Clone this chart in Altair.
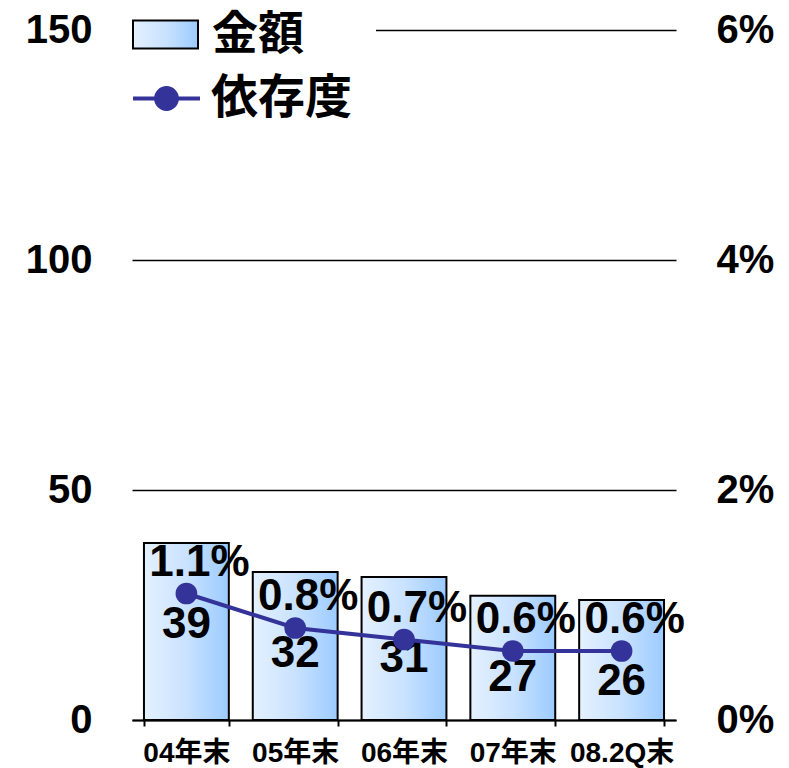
import altair as alt
import pandas as pd

categories = ["04年末", "05年末", "06年末", "07年末", "08.2Q末"]
amounts = [38.5, 32.2, 31.1, 27.0, 26.1]
amount_labels = ["39", "32", "31", "27", "26"]
ratios = [1.1, 0.8, 0.7, 0.6, 0.6]
ratio_labels = ["1.1%", "0.8%", "0.7%", "0.6%", "0.6%"]
left_ticks = [0, 50, 100, 150]
right_ticks = [0, 2, 4, 6]
series_names = ["金額", "依存度"]

df = pd.DataFrame({
    "cat": categories,
    "amount": amounts,
    "amount_label": amount_labels,
    "ratio": ratios,
    "ratio_label": ratio_labels,
    "s1": series_names[0],
    "s2": series_names[1],
})

NUM_FONT = "Liberation Sans"
CJK_FONT = "Noto Sans CJK JP, DejaVu Sans"
MIX_FONT = "Liberation Sans, Noto Sans CJK JP"
NAVY = "#333399"

grad = alt.Gradient(
    gradient="linear",
    stops=[
        alt.GradientStop(color="#e4f1ff", offset=0),
        alt.GradientStop(color="#c9e2ff", offset=0.5),
        alt.GradientStop(color="#9ccbff", offset=1),
    ],
    x1=0, x2=1, y1=0, y2=0,
)

x_axis = alt.Axis(
    title=None, labelAngle=0, labelFont=MIX_FONT, labelFontSize=28,
    labelFontWeight="bold", labelColor="black", labelPadding=13,
    tickBand="extent", tickSize=6, tickColor="black", tickWidth=2,
    domainColor="black", domainWidth=2, grid=False,
)
x_scale = alt.Scale(paddingInner=0.22, paddingOuter=0.11)


def x_enc():
    return alt.X("cat:N", sort=categories, scale=x_scale, axis=x_axis)


y_amt_scale = alt.Scale(domain=[0, 150], nice=False, zero=True)
y_pct_scale = alt.Scale(domain=[0, 6], nice=False, zero=True)

left_axis = alt.Axis(
    title=None, values=left_ticks, orient="left", grid=True,
    gridColor="black", gridWidth=1.3, ticks=False, domain=False,
    labelFont=NUM_FONT, labelFontSize=40, labelFontWeight="bold",
    labelColor="black", labelPadding=40,
)
right_axis = alt.Axis(
    title=None, values=right_ticks, orient="right", grid=False,
    ticks=False, domain=False, labelExpr="datum.value + '%'",
    labelFont=NUM_FONT, labelFontSize=40, labelFontWeight="bold",
    labelColor="black", labelPadding=40,
)

rect_path = "M-1,-0.43H1V0.43H-1Z"
line_path = "M-1,0H1M-0.31,0A0.31,0.31,0,1,1,0.31,0A0.31,0.31,0,1,1,-0.31,0Z"

blank = "\u2800" * 2

bars = alt.Chart(df).mark_bar(fill=grad, strokeWidth=2).encode(
    x=x_enc(),
    y=alt.Y("amount:Q", scale=y_amt_scale, axis=left_axis),
    stroke=alt.Stroke(
        "s1:N", scale=alt.Scale(domain=[series_names[0]], range=["black"]),
        legend=alt.Legend(
            title=None, orient="none", legendX=0, legendY=-29,
            symbolType=rect_path, symbolSize=4225, symbolStrokeWidth=2,
            labelFont=CJK_FONT, labelFontSize=46, labelFontWeight="bold",
            labelColor="black", labelOffset=13, fillColor="white", padding=0,
            labelLimit=400,
            labelExpr="datum.label + '" + blank + "'",
        ),
    ),
)

amt_text = alt.Chart(df).mark_text(
    font=NUM_FONT, fontSize=44, fontWeight="bold", color="black",
    baseline="middle", dy=82,
).encode(
    x=x_enc(),
    y=alt.Y("amount:Q", scale=y_amt_scale, axis=left_axis),
    text="amount_label:N",
)

left_layer = alt.layer(bars, amt_text)

line = alt.Chart(df).mark_line(strokeWidth=4).encode(
    x=x_enc(),
    y=alt.Y("ratio:Q", scale=y_pct_scale, axis=right_axis),
    color=alt.Color(
        "s2:N", scale=alt.Scale(domain=[series_names[1]], range=[NAVY]),
        legend=alt.Legend(
            title=None, orient="none", legendX=-5, legendY=29,
            symbolType=line_path, symbolSize=4489, symbolStrokeWidth=4,
            symbolFillColor=NAVY, symbolStrokeColor=NAVY,
            labelFont=CJK_FONT, labelFontSize=47, labelFontWeight="bold",
            labelColor="black", labelOffset=9, padding=4,
        ),
    ),
)

points = alt.Chart(df).mark_point(
    filled=True, size=470, color=NAVY, opacity=1, shape="circle"
).encode(
    x=x_enc(),
    y=alt.Y("ratio:Q", scale=y_pct_scale, axis=right_axis),
)

pct_text = alt.Chart(df).mark_text(
    font=NUM_FONT, fontSize=44, fontWeight="bold", color="black",
    baseline="middle", dx=13, dy=-31,
).encode(
    x=x_enc(),
    y=alt.Y("ratio:Q", scale=y_pct_scale, axis=right_axis),
    text="ratio_label:N",
)

right_layer = alt.layer(line, points, pct_text)

chart = alt.layer(left_layer, right_layer).resolve_scale(
    y="independent"
).properties(
    width=544, height=690,
    autosize=alt.AutoSizeParams(type="none"),
    padding={"left": 124, "top": 22, "right": 105, "bottom": 48},
).configure_view(strokeWidth=0)

chart.save("out.html", embed_options={"renderer": "svg", "actions": False})
